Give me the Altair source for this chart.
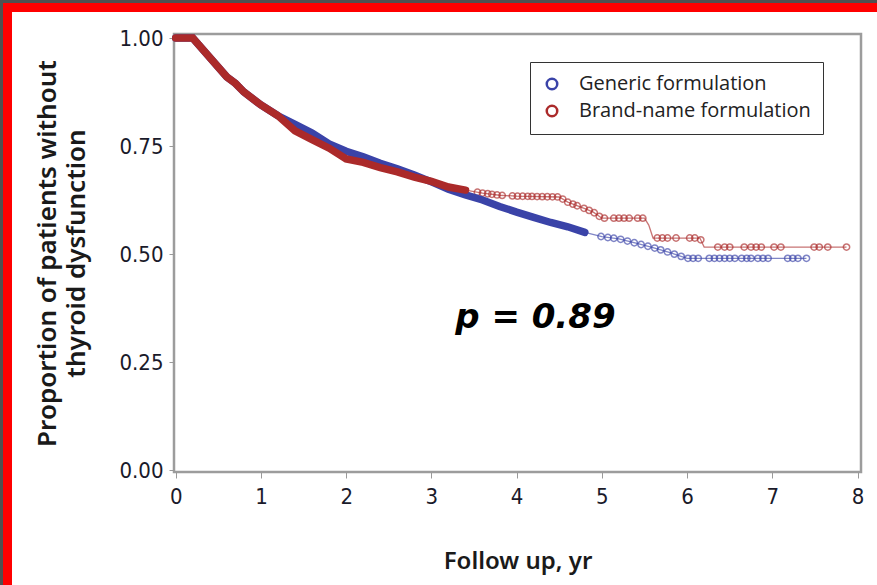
import altair as alt
import numpy as np
import pandas as pd

# Kaplan-Meier estimates: time since start (years) and proportion still free of thyroid dysfunction
generic_t = [0, 0.2, 0.4, 0.6, 0.7, 0.8, 1.0, 1.2, 1.4, 1.6, 1.8, 2.0, 2.2, 2.4, 2.6, 2.8,
             3.0, 3.2, 3.4, 3.6, 3.8, 4.0, 4.2, 4.4, 4.6, 4.8, 5.0, 5.2, 5.4, 5.6, 5.8, 6.0, 7.4]
generic_s = [1.0, 1.0, 0.955, 0.91, 0.895, 0.875, 0.845, 0.82, 0.80, 0.78, 0.755, 0.738, 0.725,
             0.71, 0.697, 0.683, 0.667, 0.65, 0.637, 0.625, 0.61, 0.597, 0.585, 0.573, 0.563,
             0.55, 0.54, 0.535, 0.525, 0.515, 0.503, 0.49, 0.49]

brand_t = [0, 0.2, 0.4, 0.6, 0.7, 0.8, 1.0, 1.2, 1.4, 1.6, 1.8, 2.0, 2.2, 2.4, 2.6, 2.8,
           3.0, 3.2, 3.4, 3.6, 3.8, 4.0, 4.5, 4.6, 4.8, 4.9, 5.0, 5.5, 5.55, 5.6, 6.15, 6.2, 7.87]
brand_s = [1.0, 1.0, 0.955, 0.91, 0.895, 0.875, 0.845, 0.82, 0.785, 0.765, 0.745, 0.72, 0.712,
           0.70, 0.69, 0.678, 0.668, 0.655, 0.648, 0.641, 0.636, 0.634, 0.632, 0.62, 0.605,
           0.597, 0.583, 0.583, 0.567, 0.537, 0.537, 0.516, 0.516]

# Censored observations (years) in the sparser tail of each curve
generic_cens = [4.99, 5.07, 5.14, 5.22, 5.30, 5.38, 5.46, 5.54, 5.62, 5.69, 5.77, 5.85, 5.93,
                6.01, 6.07, 6.13, 6.26, 6.32, 6.38, 6.44, 6.50, 6.56, 6.64, 6.70, 6.75, 6.83,
                6.89, 6.95, 7.18, 7.24, 7.30, 7.40]
brand_cens = [3.54, 3.60, 3.66, 3.71, 3.77, 3.83, 3.95, 4.01, 4.07, 4.13, 4.18, 4.24, 4.30,
              4.36, 4.42, 4.48, 4.54, 4.60, 4.66, 4.71, 4.79, 4.85, 4.91, 4.97, 5.03, 5.14,
              5.20, 5.26, 5.32, 5.42, 5.48, 5.65, 5.71, 5.77, 5.87, 6.03, 6.09, 6.16, 6.36,
              6.44, 6.50, 6.67, 6.75, 6.81, 6.87, 7.02, 7.10, 7.49, 7.55, 7.65, 7.87]

groups = ["Generic formulation", "Brand-name formulation"]
colors = ["#3a43a8", "#ab2a2a"]

# Early follow-up, where censoring marks crowd into a solid band
dense_until = {"Generic formulation": 4.9, "Brand-name formulation": 3.5}

p_label = ["p = 0.89"]
p_label_t = [4.22]
p_label_s = [0.352]

curves = pd.concat([
    pd.DataFrame({"group": groups[0], "t": generic_t, "s": generic_s}),
    pd.DataFrame({"group": groups[1], "t": brand_t, "s": brand_s}),
], ignore_index=True)

censored = pd.concat([
    pd.DataFrame({"group": groups[0], "t": generic_cens,
                  "s": np.interp(generic_cens, generic_t, generic_s)}),
    pd.DataFrame({"group": groups[1], "t": brand_cens,
                  "s": np.interp(brand_cens, brand_t, brand_s)}),
], ignore_index=True)

dense = pd.concat(
    [curves[(curves.group == g) & (curves.t <= lim)] for g, lim in dense_until.items()],
    ignore_index=True,
)

W, H = 687, 438
PAD_L, PAD_T, PAD_R, PAD_B = 174, 34, 16, 113

tick_font = "Liberation Sans Narrow, DejaVu Sans Condensed, sans-serif"
text_font = "Open Sans, sans-serif"
title_font = "Noto Sans, Open Sans, sans-serif"

legend = alt.Legend(
    title=None, orient="none", legendX=356, legendY=28,
    symbolType="circle", symbolFillColor="white", symbolStrokeWidth=2.5,
    symbolSize=110, symbolOpacity=1, labelFont=text_font, labelFontSize=20,
    labelColor="#222222", labelOffset=17, labelLimit=400, rowPadding=5, padding=12,
    strokeColor="#333333", fillColor="white",
)

color = alt.Color("group:N", scale=alt.Scale(domain=groups, range=colors), legend=legend)

x = alt.X("t:Q", scale=alt.Scale(domain=[-0.02, 8.04], nice=False, zero=False),
          axis=alt.Axis(values=list(range(0, 9)), format="d", title="Follow up, yr",
                        titleFont=title_font, titleFontSize=24, titleFontWeight=600,
                        titleColor="#1a1a1a", titlePadding=42,
                        labelFont=tick_font, labelFontSize=22, labelColor="#1a1a2a",
                        labelPadding=8, tickSize=6, tickColor="#999999", domain=False,
                        grid=False))
y = alt.Y("s:Q", scale=alt.Scale(domain=[-0.0046, 1.0093], nice=False, zero=False),
          axis=alt.Axis(values=[0, 0.25, 0.5, 0.75, 1.0], format=".2f",
                        title=["Proportion of patients without", "thyroid dysfunction"],
                        titleFont=title_font, titleFontSize=26, titleFontWeight=600,
                        titleColor="#1a1a1a", titlePadding=29, titleLineHeight=29,
                        labelFont=tick_font, labelFontSize=22, labelColor="#1a1a2a",
                        labelPadding=6, tickSize=5, tickColor="#999999", domain=False,
                        grid=False))

marks = alt.Chart(censored).mark_point(
    shape="circle", filled=False, size=40, strokeWidth=1.5, opacity=0.65
).encode(x=x, y=y, color=color)

thin = alt.Chart(curves).mark_line(strokeWidth=1.3, opacity=0.65).encode(
    x=x, y=y, color=color, detail="group:N", order="t:Q"
)

thick = alt.Chart(dense).mark_line(strokeWidth=7.5, strokeCap="round").encode(
    x=x, y=y, color=color, detail="group:N", order="t:Q"
)

pval = alt.Chart(pd.DataFrame({"label": p_label, "t": p_label_t, "s": p_label_s})).mark_text(
    font="DejaVu Sans", fontSize=34, fontWeight="bold", fontStyle="italic",
    color="black", align="center", baseline="middle"
).encode(x="t:Q", y="s:Q", text="label:N")

# Screenshot border strips along the top and left edges
one = pd.DataFrame({"k": [0]})
border = alt.layer(
    alt.Chart(one).mark_rect(color="#505050").encode(
        x=alt.value(-PAD_L), x2=alt.value(W + PAD_R), y=alt.value(-PAD_T), y2=alt.value(-PAD_T + 3)),
    alt.Chart(one).mark_rect(color="#505050").encode(
        x=alt.value(-PAD_L), x2=alt.value(-PAD_L + 3), y=alt.value(-PAD_T), y2=alt.value(H + PAD_B)),
    alt.Chart(one).mark_rect(color="#ff0000").encode(
        x=alt.value(-PAD_L + 3), x2=alt.value(W + PAD_R), y=alt.value(-PAD_T + 3), y2=alt.value(-PAD_T + 12)),
    alt.Chart(one).mark_rect(color="#ff0000").encode(
        x=alt.value(-PAD_L + 3), x2=alt.value(-PAD_L + 12), y=alt.value(-PAD_T + 3), y2=alt.value(H + PAD_B)),
)

chart = alt.layer(marks, thin, thick, pval, border).properties(
    width=W, height=H,
    autosize=alt.AutoSizeParams(type="none"),
    padding={"left": PAD_L, "top": PAD_T, "right": PAD_R, "bottom": PAD_B},
    background="white",
).configure_view(
    stroke="#9c9c9c", strokeWidth=2.5, fill="white"
)

chart.save("out.html", embed_options={"renderer": "svg", "actions": False})
